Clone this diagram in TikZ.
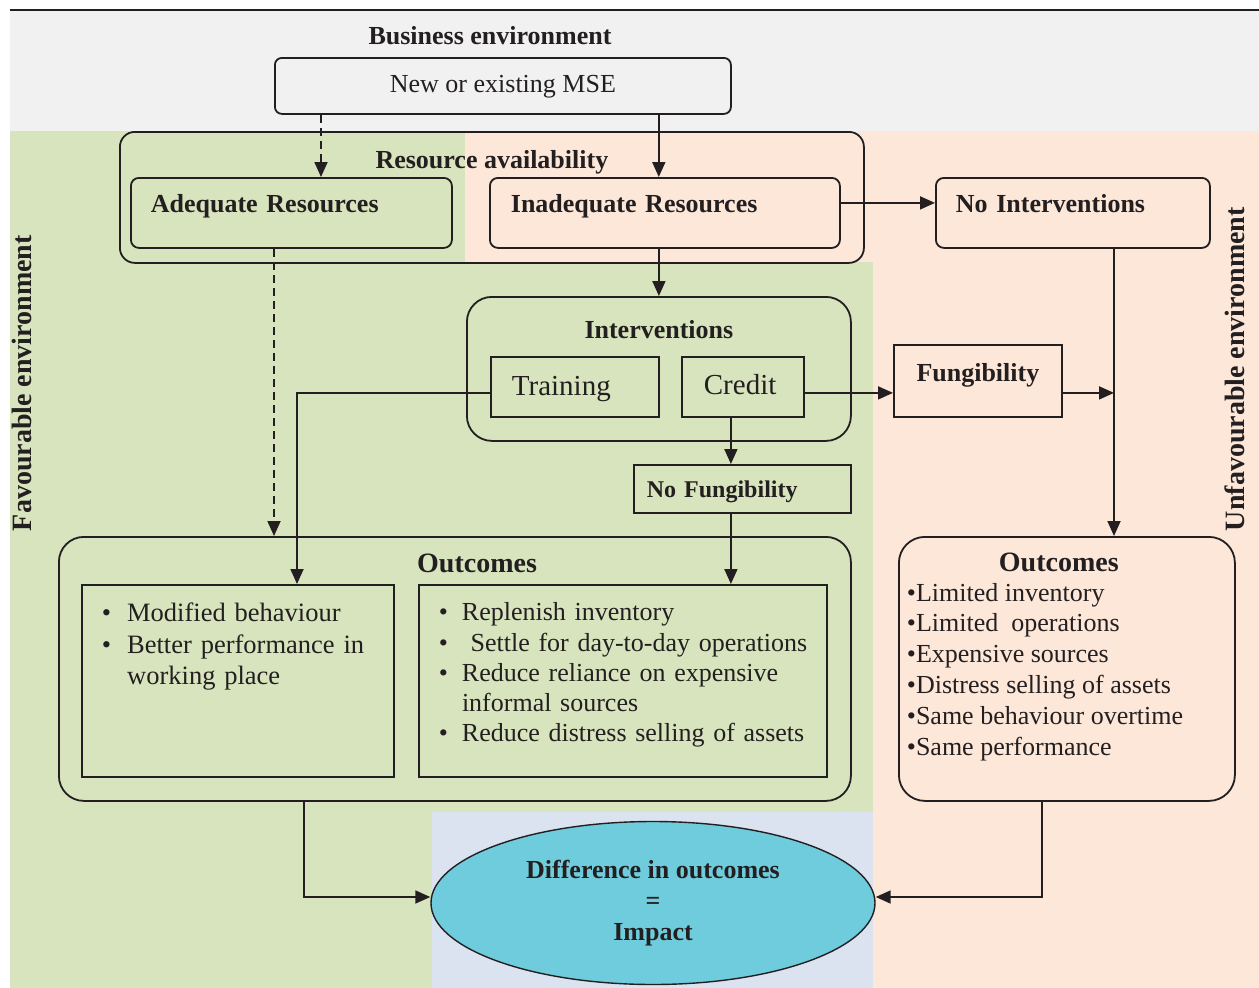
\documentclass[tikz,border=0pt]{standalone}
\usepackage{fontspec}
\setmainfont{Liberation Serif}
\usepackage{tikz}
\usetikzlibrary{arrows.meta,shapes.geometric,positioning}

\definecolor{ink}{HTML}{231F20}
\definecolor{bizgrey}{HTML}{F1F1F1}
\definecolor{favgreen}{HTML}{D7E4BD}
\definecolor{unfavpeach}{HTML}{FCE7D9}
\definecolor{impactbg}{HTML}{DCE3F0}
\definecolor{impactfill}{HTML}{6ECCDD}

\begin{document}
\begin{tikzpicture}[x=1pt, y=-1pt, line width=1.8pt, color=ink,
        every node/.style={inner sep=0pt},
        blk/.style={draw, anchor=north west},
        rblk/.style={blk, rounded corners=#1},
        hdr/.style={font=\fontsize{26}{30}\selectfont\bfseries},
        txt/.style={font=\fontsize{26}{30}\selectfont},
        arr/.style={-{Triangle[length=15pt,width=13pt]}},
        dashline/.style={dash pattern=on 8pt off 5pt}]
    \useasboundingbox (0,0) rectangle (1259,988);

    \fill[bizgrey] (10,10) rectangle (1259,131);
    \fill[favgreen] (10,131) -- (465,131) -- (465,262) -- (873,262) -- (873,812) -- (432,812) -- (432,988) -- (10,988) -- cycle;
    \fill[unfavpeach] (465,131) -- (1259,131) -- (1259,988) -- (873,988) -- (873,262) -- (465,262) -- cycle;
    \fill[impactbg] (432,812) rectangle (873,988);
    \draw[line width=1.5pt] (10,10) -- (1259,10);

    \node (bizenv) [hdr, anchor=base] at (490,44) {Business environment};
    \node (mse) [rblk=7pt, txt, minimum width=456pt, text height=35pt, text depth=21pt] at (274,57) {New or existing MSE};

    \node (resavail) [rblk=15pt, hdr, minimum width=744pt, text height=37pt, text depth=94pt] at (119,131) {Resource availability};
    \node (adeq) [rblk=8pt, hdr, inner xsep=20pt, text width=281pt, align=left, text height=35pt, text depth=35pt] at (130,177) {Adequate Resources};
    \node (inadeq) [rblk=8pt, hdr, inner xsep=21pt, text width=308pt, align=left, text height=35pt, text depth=35pt] at (489,177) {Inadequate Resources};
    \node (nointerv) [rblk=8pt, hdr, inner xsep=20pt, text width=234pt, align=left, text height=35pt, text depth=35pt] at (935,177) {No Interventions};

    \node (interv) [rblk=25pt, hdr, minimum width=384pt, text height=42pt, text depth=102pt] at (466,296) {Interventions};
    \node (training) [blk, font=\fontsize{29}{34}\selectfont, inner xsep=21pt, text width=126pt, align=left, text height=39pt, text depth=21pt] at (490,356) {Training};
    \node (credit) [blk, font=\fontsize{29}{34}\selectfont, inner xsep=22pt, text width=78pt, align=left, text height=38pt, text depth=22pt] at (681,356) {Credit};
    \node (fung) [blk, hdr, minimum width=168pt, text height=37pt, text depth=35pt] at (893,344) {Fungibility};
    \node (nofung) [blk, font=\fontsize{24}{28}\selectfont\bfseries, inner xsep=13pt, text width=191pt, align=left, text height=33pt, text depth=15pt] at (633,464) {No Fungibility};

    \node (outleft) [rblk=25pt, font=\fontsize{28}{32}\selectfont\bfseries, inner xsep=314pt, text width=164pt, align=right, text height=36pt, text depth=228pt] at (58,536) {Outcomes};
    \node (modbox) [blk, font=\fontsize{26.5}{31.5}\selectfont, inner xsep=20pt, text width=272pt, text height=37pt, text depth=155pt] at (81,584)
        {\begin{tabular}[t]{@{}l@{\hspace{16pt}}l@{}}
            \textbullet & Modified behaviour\\
            \textbullet & Better performance in\\
             & working place
        \end{tabular}};
    \node (replbox) [blk, font=\fontsize{26}{30.25}\selectfont, inner xsep=20pt, text width=368pt, text height=36pt, text depth=156pt] at (418,584)
        {\begin{tabular}[t]{@{}l@{\hspace{14pt}}l@{}}
            \textbullet & Replenish inventory\\
            \textbullet & \ Settle for day-to-day operations\\
            \textbullet & Reduce reliance on expensive\\
             & informal sources\\
            \textbullet & Reduce distress selling of assets
        \end{tabular}};

    \node (outright) [rblk=26pt, font=\fontsize{28}{32}\selectfont\bfseries, inner xsep=100pt, text width=136pt, align=left, text height=35pt, text depth=229pt] at (898,536) {Outcomes};
    \node (unfavlist) [font=\fontsize{26}{30.8}\selectfont, anchor=base west] at (906,601)
        {\begin{tabular}[t]{@{}l@{}}
            \textbullet Limited inventory\\
            \textbullet Limited\ \ operations\\
            \textbullet Expensive sources\\
            \textbullet Distress selling of assets\\
            \textbullet Same behaviour overtime\\
            \textbullet Same performance
        \end{tabular}};

    \node (impact) [ellipse, draw, fill=impactfill, line width=1.4pt, font=\fontsize{26}{31}\selectfont\bfseries, align=center, minimum width=444pt, minimum height=163pt, anchor=center] at (653,903) {Difference in outcomes\\=\\Impact};

    \node (favlabel) [font=\fontsize{28}{32}\selectfont\bfseries, rotate=90, anchor=base west] at (31,532) {Favourable environment};
    \node (unfavlabel) [font=\fontsize{28}{32}\selectfont\bfseries, rotate=90, anchor=base west] at (1244,532) {Unfavourable environment};

    \coordinate (dashtop) at ([xshift=47pt]mse.south west);
    \coordinate (soltop) at ([xshift=-73pt]mse.south east);
    \coordinate (dashlow) at ([xshift=144pt]adeq.south west);
    \coordinate (nijoin) at ([xshift=179pt]nointerv.south west);
    \coordinate (trainout) at ([yshift=-6pt]training.west);
    \coordinate (creditout) at ([yshift=-6pt]credit.east);
    \coordinate (fungjoin) at (nijoin |- creditout);
    \coordinate (creditdown) at ([xshift=-12pt]credit.south);
    \coordinate (modin) at ([xshift=216pt]modbox.north west);
    \coordinate (leftdown) at ([xshift=246pt]outleft.south west);
    \coordinate (rightdown) at ([xshift=144pt]outright.south west);

    \draw[arr, dashline] (dashtop) -- (dashtop |- adeq.north);
    \draw[arr] (soltop) -- (soltop |- inadeq.north);
    \draw[arr] ([yshift=10pt]inadeq.east) -- ([yshift=10pt]nointerv.west);
    \draw[arr, dashline] (dashlow) -- (dashlow |- outleft.north);
    \draw[arr] (interv.north |- inadeq.south) -- (interv.north);
    \draw[arr] (trainout) -| (modin);
    \draw[arr] (creditout) -- (creditout -| fung.west);
    \draw[arr] (creditout -| fung.east) -- (fungjoin);
    \draw[arr] (nijoin) -- (nijoin |- outright.north);
    \draw[arr] (creditdown) -- (creditdown |- nofung.north);
    \draw[arr] (creditdown |- nofung.south) -- (creditdown |- replbox.north);
    \draw[arr] (leftdown) |- ([yshift=6pt]impact.west);
    \draw[arr] (rightdown) |- ([yshift=6pt]impact.east);
\end{tikzpicture}
\end{document}
